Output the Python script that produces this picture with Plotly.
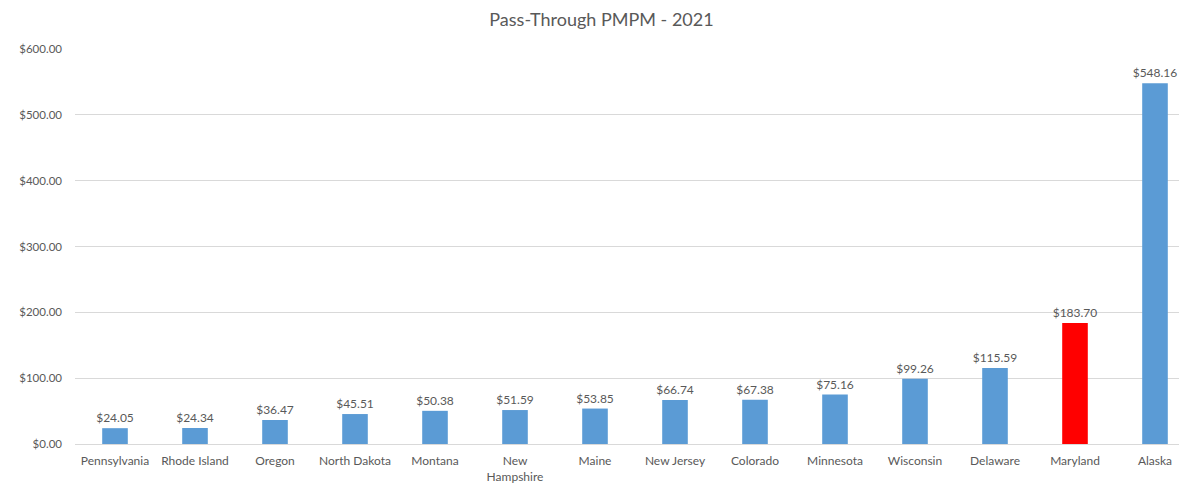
import plotly.graph_objects as go

states = ["Pennsylvania", "Rhode Island", "Oregon", "North Dakota", "Montana",
          "New<br>Hampshire", "Maine", "New Jersey", "Colorado", "Minnesota",
          "Wisconsin", "Delaware", "Maryland", "Alaska"]
values = [24.05, 24.34, 36.47, 45.51, 50.38, 51.59, 53.85, 66.74, 67.38, 75.16,
          99.26, 115.59, 183.70, 548.16]
highlight = "Maryland"
tick_vals = [0, 100, 200, 300, 400, 500, 600]
tick_text = ["$%.2f" % v for v in tick_vals]

colors = ["#FF0000" if s == highlight else "#5B9BD5" for s in states]
labels = ["$%.2f" % v for v in values]

fig = go.Figure(go.Bar(
    x=states, y=values, marker=dict(color=colors, line=dict(width=0)),
    text=labels, textposition="outside", cliponaxis=False, constraintext="none",
    textfont=dict(size=12, color="#595959"), width=0.32,
))

fig.update_layout(
    width=1187, height=483,
    margin=dict(l=67, r=0, t=41, b=47),
    paper_bgcolor="white", plot_bgcolor="white",
    font=dict(family="Lato, Open Sans, sans-serif", color="#595959"),
    title=dict(text="Pass-Through PMPM - 2021", x=0.5, xanchor="center",
               y=0.975, yanchor="middle", font=dict(size=18, color="#595959")),
    showlegend=False,
)
fig.update_yaxes(range=[0, 600], tickvals=tick_vals, ticktext=tick_text,
                 showgrid=True, gridcolor="#D9D9D9", gridwidth=1,
                 zeroline=True, zerolinecolor="#D9D9D9", zerolinewidth=1,
                 tickfont=dict(size=11.5, color="#595959"), ticks="", ticklabelstandoff=12)
fig.update_xaxes(showline=False, tickfont=dict(size=12, color="#595959"), ticks="",
                 tickangle=0, ticklabelstandoff=8)

fig.write_html("out.html")
